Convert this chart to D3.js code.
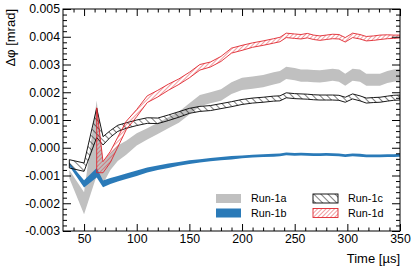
<!DOCTYPE html>
<html>
<head>
<meta charset="utf-8">
<script src="https://cdn.jsdelivr.net/npm/d3@7"></script>
<style>
  body { margin: 0; background: #fff; }
  text { font-family: "Liberation Sans", Arial, sans-serif; }
</style>
</head>
<body>
<div class="chart"></div>
<script>
// time bins [µs]
const times = [36, 50, 62, 68, 75, 82, 90, 100, 110, 120, 130, 140, 150, 160, 170, 180, 190, 200, 210, 220,
    230, 236, 242, 250, 256, 262, 268, 274, 280, 286, 292, 298, 305, 312, 318, 325, 331, 338, 344, 350];

// Run-1a (gray band): centre and half width [mrad]
const run1a = [-0.00095, -0.002, 0.00035, -0.0009, -0.0005, -0.0002, 0.0000, 0.0003, 0.0005, 0.0007,
    0.0009, 0.0011, 0.0014, 0.0017, 0.0018, 0.0019, 0.00215, 0.0023, 0.00235, 0.0024,
    0.0025, 0.00255, 0.0027, 0.00265, 0.0026, 0.0026, 0.00258, 0.00257, 0.0026, 0.00263,
    0.0026, 0.00245, 0.00263, 0.0026, 0.00245, 0.00245, 0.00245, 0.00255, 0.0026, 0.00263];
const run1aErr = [0.00015, 0.0004, 0.00135, 0.0004, 0.0003, 0.00028, 0.00025, 0.00022, 0.0002, 0.0002,
    0.0002, 0.0002, 0.0002, 0.0002, 0.0002, 0.00021, 0.00021, 0.00022, 0.00022, 0.00022,
    0.00022, 0.00022, 0.00022, 0.00022, 0.00022, 0.00022, 0.00022, 0.00022, 0.00022, 0.00022,
    0.00022, 0.00022, 0.00022, 0.00022, 0.00022, 0.00022, 0.00022, 0.00022, 0.00022, 0.00022];

// Run-1b (blue band)
const run1b = [-0.0006, -0.0013, -0.0009, -0.0013, -0.0012, -0.00112, -0.00103, -0.00092, -0.0008, -0.00072,
    -0.00065, -0.00058, -0.00052, -0.00047, -0.00043, -0.00039, -0.00036, -0.00033, -0.0003, -0.00028,
    -0.00027, -0.00026, -0.00022, -0.00024, -0.00023, -0.00024, -0.00025, -0.00025, -0.00024, -0.00025,
    -0.00026, -0.00028, -0.00026, -0.00027, -0.00029, -0.00029, -0.00029, -0.00028, -0.00028, -0.00027];
const run1bErr = [0.00006, 0.00013, 0.00017, 0.00012, 0.00011, 0.0001, 0.0001, 0.0001, 0.00009, 0.00008,
    0.00008, 0.00007, 0.00007, 0.00006, 0.00006, 0.00006, 0.00006, 0.00005, 0.00005, 0.00005,
    0.00005, 0.00005, 0.00005, 0.00005, 0.00005, 0.00005, 0.00005, 0.00005, 0.00005, 0.00005,
    0.00005, 0.00005, 0.00005, 0.00005, 0.00005, 0.00005, 0.00005, 0.00005, 0.00005, 0.00005];

// Run-1c (black hatched band)
const run1c = [-0.00058, -0.0007, 0.0009, 0.00025, 0.0005, 0.0007, 0.0008, 0.0009, 0.00098, 0.00097,
    0.00108, 0.0012, 0.00133, 0.0014, 0.00143, 0.0015, 0.00157, 0.00165, 0.0017, 0.00173,
    0.00177, 0.00178, 0.00189, 0.00186, 0.00185, 0.00184, 0.00182, 0.00181, 0.00181, 0.00181,
    0.0018, 0.00173, 0.00185, 0.00178, 0.0017, 0.00172, 0.00173, 0.00177, 0.0018, 0.00181];
const run1cErr = [0.00015, 0.00015, 0.00053, 0.00015, 0.00012, 0.00011, 0.0001, 0.0001, 0.0001, 0.0001,
    0.0001, 0.0001, 0.00009, 0.00009, 0.00009, 0.00009, 0.00009, 0.00009, 0.00009, 0.00009,
    0.00009, 0.00009, 0.00009, 0.00009, 0.00009, 0.00009, 0.00009, 0.00009, 0.00009, 0.00009,
    0.00009, 0.00009, 0.00009, 0.00009, 0.00009, 0.00009, 0.00009, 0.00009, 0.00009, 0.00009];

// Run-1d (red hatched band), starts at the third bin
const timesD = times.slice(2);
const run1d = [0.00027, -0.0007, -0.00033, 0.0002, 0.0008, 0.00125, 0.00175, 0.00195,
    0.00218, 0.00238, 0.00262, 0.0029, 0.003, 0.0032, 0.0035, 0.0036, 0.0037, 0.00377,
    0.00385, 0.0039, 0.00405, 0.00402, 0.004, 0.00404, 0.00398, 0.00395, 0.00398, 0.00401,
    0.004, 0.00389, 0.00405, 0.004, 0.00393, 0.00395, 0.00398, 0.004, 0.004, 0.00401];
const run1dErr = [0.00117, 0.0002, 0.0002, 0.00018, 0.00015, 0.00013, 0.00012, 0.00012,
    0.00011, 0.0001, 0.0001, 0.0001, 0.00009, 0.00009, 0.00009, 0.00009, 0.00008, 0.00008,
    0.00008, 0.00008, 0.00008, 0.00008, 0.00008, 0.00008, 0.00008, 0.00008, 0.00008, 0.00008,
    0.00008, 0.00008, 0.00008, 0.00008, 0.00008, 0.00008, 0.00008, 0.00007, 0.00006, 0.00005];

const yTicks = [-0.003, -0.002, -0.001, 0, 0.001, 0.002, 0.003, 0.004, 0.005];
const xTicks = [50, 100, 150, 200, 250, 300, 350];
const legendLabels = ['Run-1a', 'Run-1b', 'Run-1c', 'Run-1d'];

const margin = { top: 9, left: 63, bottom: 40, right: 16 };
const width = 416 - margin.left - margin.right;
const height = 271 - margin.top - margin.bottom;

const root = d3.select('.chart')
    .append('svg')
    .attr('width', 416)
    .attr('height', 271);

// hatch patterns
const defs = root.append('defs');
defs.append('pattern')
    .attr('id', 'hatchBlack')
    .attr('patternUnits', 'userSpaceOnUse')
    .attr('width', 5).attr('height', 5)
    .attr('patternTransform', 'rotate(-45)')
    .append('line')
    .attr('x1', 0).attr('y1', 0).attr('x2', 0).attr('y2', 5)
    .style('stroke', '#000').style('stroke-width', 1);
defs.append('pattern')
    .attr('id', 'hatchRed')
    .attr('patternUnits', 'userSpaceOnUse')
    .attr('width', 3).attr('height', 3)
    .attr('patternTransform', 'rotate(45)')
    .append('line')
    .attr('x1', 0).attr('y1', 0).attr('x2', 0).attr('y2', 3)
    .style('stroke', '#e0262e').style('stroke-width', 0.9);

const svg = root.append('g')
    .attr('transform', `translate(${margin.left}, ${margin.top})`);

// scales
const xScale = d3.scaleLinear().domain([30, 350]).range([0, width]);
const yScale = d3.scaleLinear().domain([-0.003, 0.005]).range([height, 0]);

svg.append('defs').append('clipPath').attr('id', 'clip')
    .append('rect').attr('width', width).attr('height', height);

const areaGen = d3.area()
    .x(d => xScale(d.t))
    .y0(d => yScale(d.v - d.e))
    .y1(d => yScale(d.v + d.e));

const toRows = (ts, vals, errs) => ts.map((t, i) => ({ t, v: vals[i], e: errs[i] }));

const bands = [
    { rows: toRows(times, run1a, run1aErr), fill: '#c0c0c0', stroke: 'none' },
    { rows: toRows(times, run1b, run1bErr), fill: '#2a7ab8', stroke: 'none' },
    { rows: toRows(times, run1c, run1cErr), fill: 'url(#hatchBlack)', stroke: '#000' },
    { rows: toRows(timesD, run1d, run1dErr), fill: 'url(#hatchRed)', stroke: '#e0262e' }
];

const chartGroup = svg.append('g').attr('clip-path', 'url(#clip)');
chartGroup.selectAll('.band')
    .data(bands)
    .enter()
    .append('path')
    .attr('class', 'band')
    .attr('d', d => areaGen(d.rows))
    .style('fill', d => d.fill)
    .style('stroke', d => d.stroke)
    .style('stroke-width', 0.9)
    .style('stroke-linejoin', 'round');

// axes (ROOT style: ticks inside, mirrored)
const xMinor = d3.range(40, 351, 10).filter(v => v % 50 !== 0);
const yMinor = d3.range(-0.003, 0.00501, 0.0002).filter(v => Math.abs(v * 1000 - Math.round(v * 1000)) > 1e-6);

const styleAxis = g => {
    g.select('.domain').remove();
    g.selectAll('line').style('stroke', '#000');
    g.selectAll('text').style('font-size', '12.3px').style('fill', '#000');
};

svg.append('g').attr('transform', `translate(0, ${height})`)
    .call(d3.axisBottom(xScale).tickValues(xTicks).tickSize(-7).tickPadding(3))
    .call(styleAxis);
svg.append('g').attr('transform', `translate(0, ${height})`)
    .call(d3.axisBottom(xScale).tickValues(xMinor).tickSize(-3.5).tickFormat(''))
    .call(styleAxis);
svg.append('g')
    .call(d3.axisTop(xScale).tickValues(xTicks).tickSize(-7).tickFormat(''))
    .call(styleAxis);
svg.append('g')
    .call(d3.axisTop(xScale).tickValues(xMinor).tickSize(-3.5).tickFormat(''))
    .call(styleAxis);

svg.append('g')
    .call(d3.axisLeft(yScale).tickValues(yTicks).tickSize(-8).tickPadding(3).tickFormat(d => d.toFixed(3)))
    .call(styleAxis);
svg.append('g')
    .call(d3.axisLeft(yScale).tickValues(yMinor).tickSize(-4).tickFormat(''))
    .call(styleAxis);
svg.append('g').attr('transform', `translate(${width}, 0)`)
    .call(d3.axisRight(yScale).tickValues(yTicks).tickSize(-8).tickFormat(''))
    .call(styleAxis);
svg.append('g').attr('transform', `translate(${width}, 0)`)
    .call(d3.axisRight(yScale).tickValues(yMinor).tickSize(-4).tickFormat(''))
    .call(styleAxis);

svg.append('rect')
    .attr('width', width).attr('height', height)
    .style('fill', 'none').style('stroke', '#000').style('stroke-width', 1);

// axis titles
svg.append('text')
    .attr('x', width).attr('y', height + 31.5)
    .attr('text-anchor', 'end')
    .style('font-size', '13px')
    .text('Time [µs]');
svg.append('text')
    .attr('transform', `translate(${-48}, 0) rotate(-90)`)
    .attr('text-anchor', 'end')
    .style('font-size', '13px')
    .text('Δφ [mrad]');

// legend
const legend = svg.append('g').attr('transform', `translate(153, 185)`);
const legendPos = [[0, 0], [0, 14.5], [97, 0], [97, 14.5]];
const legendItems = legend.selectAll('.item')
    .data(bands.map((b, i) => ({ ...b, label: legendLabels[i], pos: legendPos[i] })))
    .enter()
    .append('g')
    .attr('transform', d => `translate(${d.pos[0]}, ${d.pos[1]})`);
legendItems.append('rect')
    .attr('x', 0).attr('y', 0).attr('width', 25).attr('height', 9)
    .style('fill', d => d.fill)
    .style('stroke', d => d.stroke)
    .style('stroke-width', 0.9);
legendItems.append('text')
    .attr('x', 35).attr('y', 4.5).attr('dy', '0.36em')
    .style('font-size', '10.8px')
    .text(d => d.label);
</script>
</body>
</html>
